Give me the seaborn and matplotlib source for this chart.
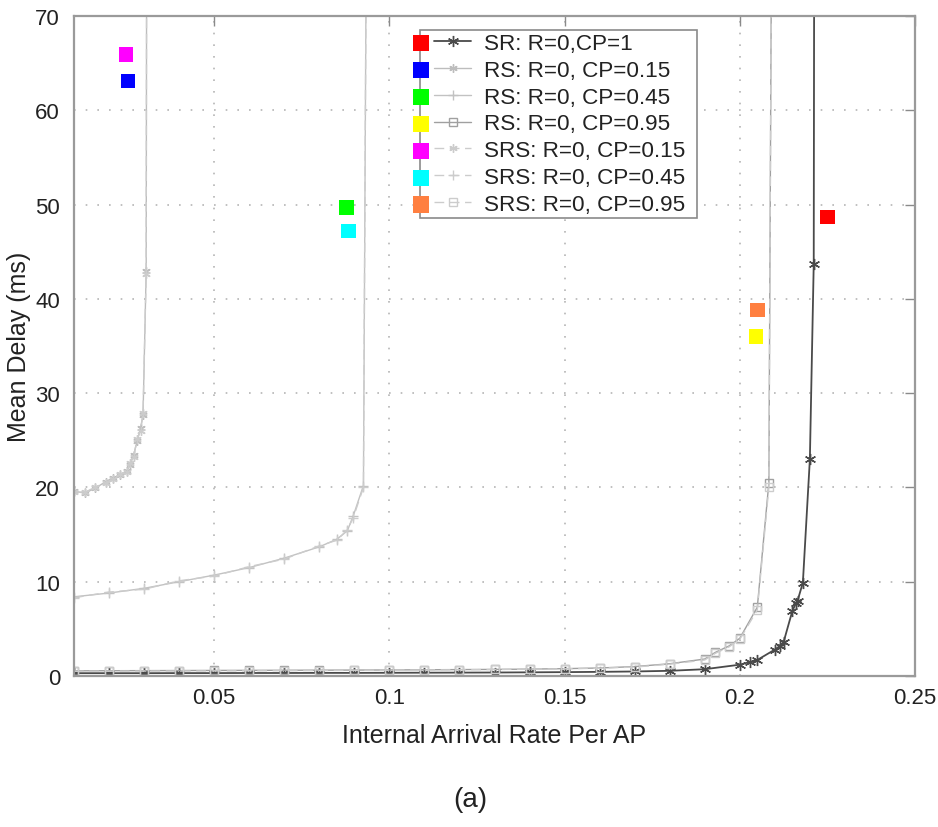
import matplotlib
matplotlib.use("Agg")
import matplotlib.pyplot as plt
import seaborn as sns
import pandas as pd
from matplotlib.lines import Line2D
from matplotlib.legend_handler import HandlerLine2D

# ---- data: internal arrival rate per AP vs. mean delay (ms) ----
sr_rate = [0.01, 0.02, 0.03, 0.04, 0.05, 0.06, 0.07, 0.08, 0.09, 0.10, 0.11, 0.12,
           0.13, 0.14, 0.15, 0.16, 0.17, 0.18, 0.19, 0.20, 0.203, 0.205, 0.210,
           0.2115, 0.2125, 0.215, 0.216, 0.2165, 0.218, 0.220, 0.2211, 0.2214]
sr_delay = [0.30, 0.30, 0.30, 0.31, 0.31, 0.32, 0.32, 0.33, 0.33, 0.34, 0.35, 0.36,
            0.37, 0.39, 0.41, 0.44, 0.48, 0.55, 0.72, 1.2, 1.5, 1.7, 2.8,
            3.2, 3.6, 6.9, 7.7, 8.0, 9.9, 23.0, 43.7, 120.0]

cp15_rate = [0.010, 0.013, 0.016, 0.019, 0.021, 0.023, 0.025, 0.026, 0.027,
             0.028, 0.029, 0.0297, 0.0306, 0.0309]
rs15_delay = [19.6, 19.4, 19.9, 20.6, 21.0, 21.3, 21.7, 22.4, 23.4,
              24.9, 26.3, 27.7, 43.0, 120.0]
srs15_delay = [19.5, 19.5, 20.0, 20.5, 20.9, 21.4, 21.6, 22.6, 23.2,
               25.1, 26.0, 27.9, 42.6, 120.0]

cp45_rate = [0.01, 0.02, 0.03, 0.04, 0.05, 0.06, 0.07, 0.08, 0.085, 0.088,
             0.0897, 0.0926, 0.0940]
rs45_delay = [8.4, 8.8, 9.3, 10.0, 10.7, 11.5, 12.5, 13.7, 14.5, 15.4,
              17.0, 20.2, 120.0]
srs45_delay = [8.3, 8.9, 9.2, 10.1, 10.6, 11.6, 12.4, 13.8, 14.4, 15.5,
               16.8, 20.0, 120.0]

cp95_rate = [0.01, 0.02, 0.03, 0.04, 0.05, 0.06, 0.07, 0.08, 0.09, 0.10, 0.11,
             0.12, 0.13, 0.14, 0.15, 0.16, 0.17, 0.18, 0.19, 0.193, 0.197,
             0.200, 0.205, 0.2083, 0.2096]
rs95_delay = [0.55, 0.56, 0.57, 0.58, 0.59, 0.60, 0.61, 0.62, 0.63, 0.64, 0.66,
              0.68, 0.70, 0.73, 0.78, 0.85, 1.0, 1.3, 1.8, 2.5, 3.2,
              4.0, 7.3, 20.5, 120.0]
srs95_delay = [0.50, 0.51, 0.52, 0.53, 0.54, 0.55, 0.56, 0.58, 0.60, 0.62, 0.64,
               0.66, 0.69, 0.72, 0.76, 0.83, 0.95, 1.25, 1.7, 2.4, 3.1,
               3.9, 7.0, 20.0, 120.0]

labels = ["SR: R=0,CP=1", "RS: R=0, CP=0.15", "RS: R=0, CP=0.45",
          "RS: R=0, CP=0.95", "SRS: R=0, CP=0.15", "SRS: R=0, CP=0.45",
          "SRS: R=0, CP=0.95"]
tag_colors = ["#ff0000", "#0000ff", "#00ff00", "#ffff00",
              "#ff00ff", "#00ffff", "#ff7f40"]

# coloured tags placed next to each curve
tag_rate = [0.2250, 0.0254, 0.0877, 0.2046, 0.0249, 0.0883, 0.2050]
tag_delay = [48.7, 63.1, 49.7, 36.0, 65.9, 47.2, 38.8]

x_ticks = [0.05, 0.1, 0.15, 0.2, 0.25]
x_tick_labels = ["0.05", "0.1", "0.15", "0.2", "0.25"]
y_ticks = [0, 10, 20, 30, 40, 50, 60, 70]

# ---- styling ----
sns.set_style("white")
plt.rcParams["font.family"] = ["Liberation Sans", "DejaVu Sans"]

AST = (6, 2, 0)
DASH = (0, (7, 4))
series = [
    (sr_rate, sr_delay, "#4a4a4a", AST, "-", 1.3, 8),
    (cp15_rate, rs15_delay, "#bdbdbd", AST, "-", 1.0, 6),
    (cp45_rate, rs45_delay, "#c2c2c2", "+", "-", 1.0, 7),
    (cp95_rate, rs95_delay, "#a0a0a0", "s", "-", 1.0, 6),
    (cp15_rate, srs15_delay, "#cccccc", AST, DASH, 1.0, 6),
    (cp45_rate, srs45_delay, "#cccccc", "+", DASH, 1.0, 7),
    (cp95_rate, srs95_delay, "#cccccc", "s", DASH, 1.0, 6),
]

fig = plt.figure(figsize=(9.38, 8.28), dpi=100)
ax = fig.add_axes([74 / 938, 1 - 677 / 828, (915 - 74) / 938, (677 - 17) / 828])

for (xs, ys, col, mk, ls, lw, ms), lab in zip(series, labels):
    df = pd.DataFrame({"rate": xs, "delay": ys})
    sns.lineplot(data=df, x="rate", y="delay", ax=ax, color=col, marker=mk,
                 linestyle=ls, linewidth=lw, markersize=ms,
                 markeredgecolor=col, markerfacecolor="none",
                 markeredgewidth=1.0, sort=False, estimator=None, label=lab)

tags = pd.DataFrame({"rate": tag_rate, "delay": tag_delay, "scheme": labels})
sns.scatterplot(data=tags, x="rate", y="delay", hue="scheme",
                palette=dict(zip(labels, tag_colors)), marker="s", s=110,
                edgecolor="none", ax=ax, legend=False, zorder=4)

ax.set_xlim(0.01, 0.25)
ax.set_ylim(0, 70)
ax.set_xticks(x_ticks)
ax.set_xticklabels(x_tick_labels)
ax.set_yticks(y_ticks)
ax.grid(True, color="#b5b5b5", linestyle=(0, (1, 6)), linewidth=1.2)
ax.tick_params(direction="in", length=7, width=1.0, color="#8a8a8a",
               top=True, right=True, labelsize=16, labelcolor="#222222")
ax.tick_params(axis="x", pad=8)
ax.tick_params(axis="y", pad=10)
for sp in ax.spines.values():
    sp.set_color("#9a9a9a")
    sp.set_linewidth(1.6)

ax.set_xlabel("Internal Arrival Rate Per AP", fontsize=18, color="#222222",
              labelpad=11)
ax.set_ylabel("Mean Delay (ms)", fontsize=18, color="#222222", labelpad=3)

handles, hl = ax.get_legend_handles_labels()
leg_x0 = (420 - 74) / 841
leg_top = (677 - 31) / 660
leg_w = (697 - 420) / 841
leg = ax.legend(handles, hl, loc="upper left", mode="expand",
                bbox_to_anchor=(leg_x0, leg_top - 0.3, leg_w, 0.3),
                borderaxespad=0, fontsize=16.2, frameon=True, fancybox=False,
                framealpha=1, edgecolor="#8a8a8a", facecolor="white",
                borderpad=0.13, labelspacing=0.26, handlelength=2.15,
                handletextpad=0.55, numpoints=1,
                handler_map={Line2D: HandlerLine2D(xpad=0.5)})
leg.get_frame().set_linewidth(1.2)
for t in leg.get_texts():
    t.set_color("#222222")

fig.text(0.501, 1 - 800 / 828, "(a)", ha="center", va="center", fontsize=20,
         color="#222222")

# coloured keys sitting on the left border of the legend, one per row
fig.canvas.draw()
renderer = fig.canvas.get_renderer()
frame_left = leg.get_window_extent(renderer).x0
inv = ax.transAxes.inverted()
key_pts = []
for t in leg.get_texts():
    bb = t.get_window_extent(renderer)
    key_pts.append(inv.transform((frame_left + 1, (bb.y0 + bb.y1) / 2)))
ax.scatter([p[0] for p in key_pts], [p[1] for p in key_pts], c=tag_colors,
           marker="s", s=135, edgecolors="none", transform=ax.transAxes,
           clip_on=False, zorder=6)

fig.savefig("out.png", dpi=100)
